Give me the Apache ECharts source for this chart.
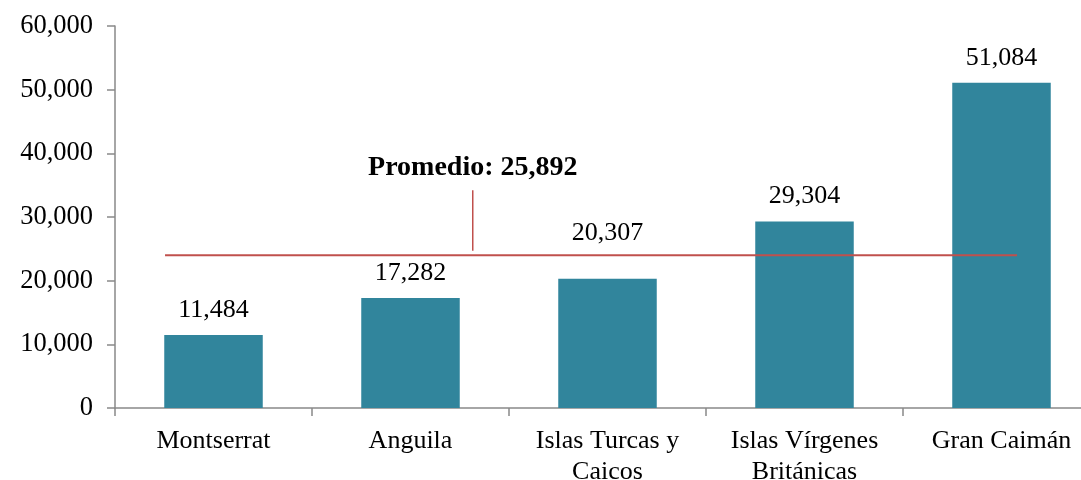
<!DOCTYPE html>
<html>
<head>
<meta charset="utf-8">
<script src="https://cdn.jsdelivr.net/npm/echarts@6/dist/echarts.min.js"></script>
<style>
html,body{margin:0;padding:0;background:#fff;}
#chart{width:1081px;height:480px;}
</style>
</head>
<body>
<div id="chart"></div>
<script>
const categories = ['Montserrat', 'Anguila', 'Islas Turcas y\nCaicos', 'Islas Vírgenes\nBritánicas', 'Gran Caimán'];
const values = [11484, 17282, 20307, 29304, 51084];
const yTicks = { min: 0, max: 60000, interval: 10000 };
const averageText = 'Promedio: 25,892';
// reference line drawn as in the picture (x in category units, 0..5)
const avgLine = [[0.254, 24000], [4.579, 24000]];
const pointerLine = [[1.816, 24700], [1.816, 34200]];
const avgLabelPoint = [[1.816, 37700]];

const font = 'Liberation Serif, Times New Roman, serif';
// the label of the third bar sits higher in the original, clear of the average line
const barData = values.map((v, i) => i === 2 ? { value: v, label: { offset: [0, -21] } } : v);

const chart = echarts.init(document.getElementById('chart'));
chart.setOption({
  animation: false,
  backgroundColor: '#ffffff',
  grid: { left: 115, top: 26, width: 985, height: 382, containLabel: false, outerBoundsMode: 'none' },
  xAxis: [{
    type: 'category',
    data: categories,
    axisLine: { lineStyle: { color: '#898989', width: 1.5 } },
    axisTick: { show: true, length: 8, lineStyle: { color: '#898989', width: 1.5 } },
    axisLabel: { color: '#000', fontFamily: font, fontSize: 26, margin: 18, lineHeight: 31 }
  }, {
    type: 'value', min: 0, max: 5, show: false
  }],
  yAxis: {
    type: 'value',
    min: yTicks.min, max: yTicks.max, interval: yTicks.interval,
    axisLine: { show: true, lineStyle: { color: '#898989', width: 1.5 } },
    axisTick: { show: true, length: 8, lineStyle: { color: '#898989', width: 1.5 } },
    splitLine: { show: false },
    axisLabel: {
      color: '#000', fontFamily: font, fontSize: 26.5, margin: 22,
      formatter: v => v.toLocaleString('en-US')
    }
  },
  series: [{
    type: 'bar',
    data: barData,
    barWidth: '50%',
    itemStyle: { color: '#31859C' },
    label: {
      show: true, position: 'top', distance: 12,
      color: '#000', fontFamily: font, fontSize: 26,
      formatter: p => p.value.toLocaleString('en-US')
    }
  }, {
    type: 'line', xAxisIndex: 1, data: avgLine, symbol: 'none',
    lineStyle: { color: '#C0504D', width: 2 }, z: 5
  }, {
    type: 'line', xAxisIndex: 1, data: pointerLine, symbol: 'none',
    lineStyle: { color: '#C0504D', width: 1.5 }, z: 5
  }, {
    type: 'scatter', xAxisIndex: 1, data: avgLabelPoint, symbolSize: 0,
    itemStyle: { opacity: 1 },
    label: {
      show: true, position: 'inside', formatter: averageText,
      color: '#000', fontFamily: font, fontSize: 28, fontWeight: 'bold',
      textBorderWidth: 0, opacity: 1
    }
  }]
});
</script>
</body>
</html>
